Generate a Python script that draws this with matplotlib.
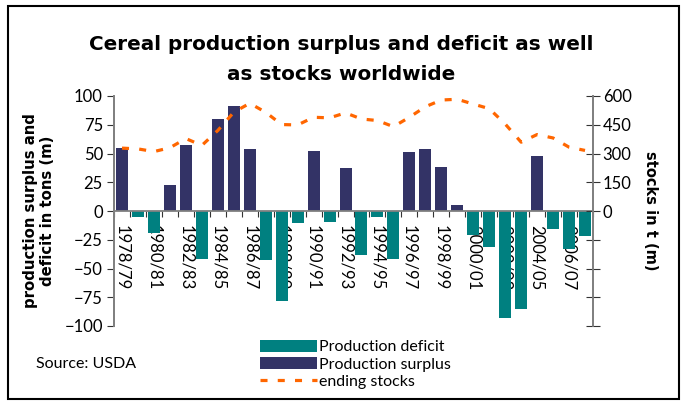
import matplotlib
matplotlib.use("Agg")
import matplotlib.pyplot as plt
from matplotlib.patches import Rectangle
import numpy as np

plt.rcParams['font.family'] = ['Lato', 'DejaVu Sans']

seasons = ["1978/79", "1979/80", "1980/81", "1981/82", "1982/83", "1983/84", "1984/85",
           "1985/86", "1986/87", "1987/88", "1988/89", "1989/90", "1990/91", "1991/92",
           "1992/93", "1993/94", "1994/95", "1995/96", "1996/97", "1997/98", "1998/99",
           "1999/00", "2000/01", "2001/02", "2002/03", "2003/04", "2004/05", "2005/06",
           "2006/07", "2007/08"]
balance = [55, -5, -19, 23, 57, -42, 80, 91, 53.5, -43, -78, -10, 52, -9.5, 37, -38,
           -5, -42, 51, 53.5, 38, 5, -21, -31, -93, -85, 48, -16, -33, -22]
stocks = [328, 324, 310, 330, 378, 342, 420, 515, 562, 515, 451, 449, 489, 486, 512,
          480, 472, 440, 489, 544, 579, 583, 558, 534, 454, 359, 399, 381, 333, 316]

title = "Cereal production surplus and deficit as well\nas stocks worldwide"
left_label = "production surplus and\ndeficit in tons (m)"
right_label = "stocks in t (m)"
legend_labels = ["Production deficit", "Production surplus", "ending stocks"]
source = "Source: USDA"

teal = "#008080"
navy = "#333366"
orange = "#FF6600"
bold_font = ['DejaVu Sans']

bal = np.array(balance, dtype=float)
deficit = np.where(bal < 0, bal, 0)
surplus = np.where(bal > 0, bal, 0)
x = np.arange(len(seasons))

fig = plt.figure(figsize=(6.83, 4.01), dpi=100)
ax = fig.add_axes([114/683, 1-326/401, (593-114)/683, (326-96)/401])
ax2 = ax.twinx()

b1 = ax.bar(x, deficit, width=0.75, color=teal, zorder=2)
b2 = ax.bar(x, surplus, width=0.75, color=navy, zorder=2)
l1, = ax2.plot(x, stocks, color=orange, lw=2.3, linestyle=(0, (2.2, 3.2)))

ax.set_xlim(-0.5, len(seasons) - 0.5)
ax.set_ylim(-100, 100)
ax.set_yticks(np.arange(-100, 101, 25))
ax.tick_params(axis='y', direction='out', length=5, labelsize=12, pad=3, color='#333333')
ax2.set_ylim(-600, 600)
ax2.set_yticks(np.arange(-600, 601, 150))
ax2.set_yticklabels([str(v) if v >= 0 else "" for v in range(-600, 601, 150)])
ax2.tick_params(axis='y', direction='inout', length=10, labelsize=12, pad=2, color='#333333')

for a in (ax, ax2):
    a.spines['top'].set_visible(False)
    a.spines['bottom'].set_visible(False)
    a.spines['left'].set_color('#808080')
    a.spines['right'].set_color('#808080')
    a.spines['left'].set_linewidth(1.3)
    a.spines['right'].set_linewidth(1.3)
ax.spines['bottom'].set_visible(True)
ax.spines['bottom'].set_position(('data', 0))
ax.spines['bottom'].set_color('#808080')
ax.spines['bottom'].set_linewidth(1.3)
ax.spines['bottom'].set_zorder(3)

ax.set_xticks(np.arange(-0.5, len(seasons), 1.0))
ax.set_xticklabels([])
ax.tick_params(axis='x', which='major', direction='out', length=4, color='#333333')
ax.set_xticks(x[::2], minor=True)
ax.set_xticklabels(seasons[::2], minor=True, rotation=-90, fontsize=12)
ax.tick_params(axis='x', which='minor', length=0, pad=10)
for t in ax.get_xticklabels(minor=True):
    t.set_verticalalignment('top')
    t.set_horizontalalignment('center')

ax.set_ylabel(left_label, fontsize=10.7, fontweight='bold', family=bold_font,
              labelpad=7, linespacing=1.1)
ax2.set_ylabel(right_label, fontsize=10.5, fontweight='bold', family=bold_font,
               rotation=-90, labelpad=19)

l1_title, l2_title = title.split("\n")
fig.text(0.5, 1-45/401, l1_title, ha='center', va='center', fontsize=14.4,
         fontweight='bold', family=bold_font)
fig.text(0.5, 1-75/401, l2_title, ha='center', va='center', fontsize=14.4,
         fontweight='bold', family=bold_font)

fig.text(36/683, 1-364/401, source, ha='left', va='center', fontsize=11.5)

leg = fig.legend([b1, b2, l1], legend_labels, loc='upper left',
                 bbox_to_anchor=(258/683, 1-338/401), frameon=False, fontsize=11.5,
                 handlelength=3.6, handleheight=0.8, handletextpad=0.15, labelspacing=0.18,
                 borderpad=0.1, borderaxespad=0)

fig.patches.append(Rectangle((8/683, 1-399/401), 671/683, 393/401, transform=fig.transFigure,
                             fill=False, edgecolor='black', lw=1.5))

fig.savefig("out.png", dpi=100)
